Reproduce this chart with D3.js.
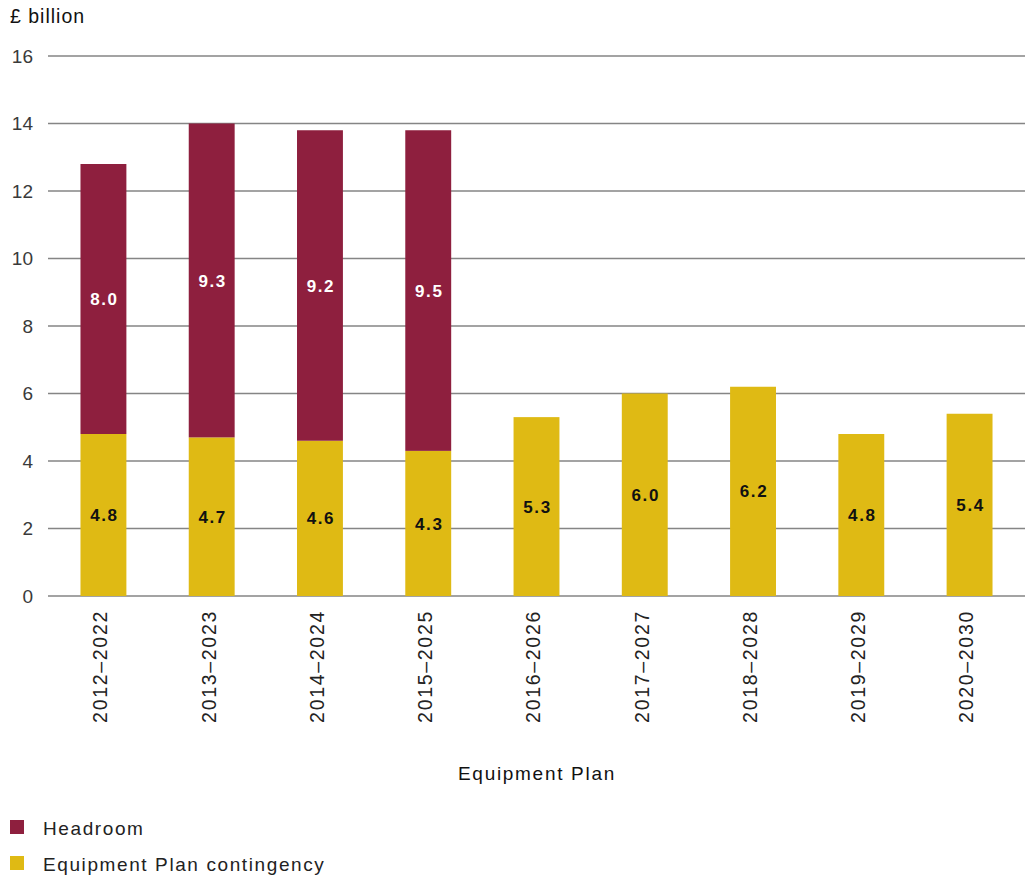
<!DOCTYPE html>
<html>
<head>
<meta charset="utf-8">
<script src="https://cdn.jsdelivr.net/npm/d3@7"></script>
<style>
  html, body { margin: 0; padding: 0; background: #fff; }
  svg { display: block; font-family: "Liberation Sans", Arial, Helvetica, sans-serif; }
</style>
</head>
<body>
<svg id="chart" width="1027" height="877"></svg>
<script>
// Equipment Plan periods
const categories = ["2012–2022", "2013–2023", "2014–2024", "2015–2025", "2016–2026",
                    "2017–2027", "2018–2028", "2019–2029", "2020–2030"];
// Contingency (£ billion)
const contingency = [4.8, 4.7, 4.6, 4.3, 5.3, 6.0, 6.2, 4.8, 5.4];
// Headroom (£ billion); null where no headroom was reported
const headroom = [8.0, 9.3, 9.2, 9.5, null, null, null, null, null];
const yTicks = [0, 2, 4, 6, 8, 10, 12, 14, 16];
const seriesNames = ["Headroom", "Equipment Plan contingency"];
const colors = { headroom: "#8e1f3e", contingency: "#dfba14" };

const svg = d3.select("#chart");
const plotLeft = 48, plotRight = 1025, plotTop = 56, plotBottom = 596;

const x = d3.scaleBand().domain(categories).range([plotLeft, plotRight])
  .paddingInner(0.576).paddingOuter(0.3);
const y = d3.scaleLinear().domain([0, 16]).range([plotBottom, plotTop]);

// Gridlines
svg.append("g").selectAll("line").data(yTicks).join("line")
  .attr("x1", plotLeft).attr("x2", plotRight)
  .attr("y1", d => y(d)).attr("y2", d => y(d))
  .attr("stroke", "#858585").attr("stroke-width", 1.5);

// Y tick labels
svg.append("g").selectAll("text").data(yTicks).join("text")
  .attr("x", 33).attr("y", d => y(d)).attr("dy", "0.36em")
  .attr("text-anchor", "end").attr("font-size", 19).attr("fill", "#3a3a3a")
  .text(d => d);

// Bars
const data = categories.map((c, i) => ({ c, cont: contingency[i], head: headroom[i] }));
const bars = svg.append("g");
bars.selectAll("rect.cont").data(data).join("rect").attr("class", "cont")
  .attr("x", d => x(d.c)).attr("width", x.bandwidth())
  .attr("y", d => y(d.cont)).attr("height", d => y(0) - y(d.cont))
  .attr("fill", colors.contingency);
bars.selectAll("rect.head").data(data.filter(d => d.head != null)).join("rect").attr("class", "head")
  .attr("x", d => x(d.c)).attr("width", x.bandwidth())
  .attr("y", d => y(d.cont + d.head)).attr("height", d => y(d.cont) - y(d.cont + d.head))
  .attr("fill", colors.headroom);

// Value labels
const labels = svg.append("g").attr("font-size", 17).attr("font-weight", "bold")
  .attr("letter-spacing", 1.6).attr("text-anchor", "middle");
labels.selectAll("text.cont").data(data).join("text").attr("class", "cont")
  .attr("x", d => x(d.c) + x.bandwidth() / 2 + 1).attr("y", d => y(d.cont / 2)).attr("dy", "0.36em")
  .attr("fill", "#111").text(d => d.cont.toFixed(1));
labels.selectAll("text.head").data(data.filter(d => d.head != null)).join("text").attr("class", "head")
  .attr("x", d => x(d.c) + x.bandwidth() / 2 + 1).attr("y", d => y(d.cont + d.head / 2)).attr("dy", "0.36em")
  .attr("fill", "#fff").text(d => d.head.toFixed(1));

// X category labels (rotated)
svg.append("g").selectAll("text").data(categories).join("text")
  .attr("transform", d => `translate(${x(d) + x.bandwidth() / 2},610) rotate(-90)`)
  .attr("text-anchor", "end").attr("dy", "0.2em").attr("letter-spacing", 1.7)
  .attr("font-size", 19.5).attr("fill", "#222").text(d => d);

// Axis titles
svg.append("text").attr("x", 10).attr("y", 23).attr("font-size", 19.5).attr("letter-spacing", 1)
  .attr("fill", "#111").text("£ billion");
svg.append("text").attr("x", 458).attr("y", 780)
  .attr("font-size", 19).attr("letter-spacing", 1.7).attr("fill", "#111").text("Equipment Plan");

// Legend
const legend = svg.append("g");
const legendColors = [colors.headroom, colors.contingency];
seriesNames.forEach((name, i) => {
  const yy = 820 + i * 36;
  legend.append("rect").attr("x", 10).attr("y", yy).attr("width", 14).attr("height", 14).attr("fill", legendColors[i]);
  legend.append("text").attr("x", 43).attr("y", yy + 15).attr("font-size", 19).attr("letter-spacing", 1.6)
    .attr("fill", "#222").text(name);
});
</script>
</body>
</html>
